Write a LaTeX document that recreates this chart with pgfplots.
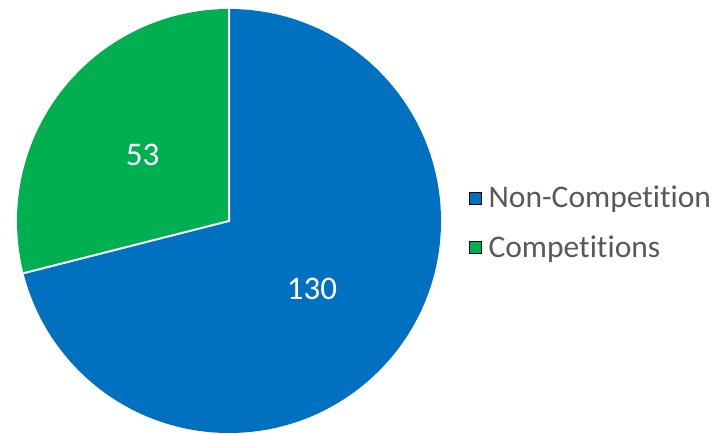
\documentclass[border=0pt]{standalone}
\usepackage{fontspec}
\setmainfont{Carlito}[Ligatures=NoCommon]
\usepackage{pgfplots}
\pgfplotsset{compat=1.18}
\usepackage{pgfplotstable}
\definecolor{ncblue}{HTML}{0070C0}
\definecolor{cgreen}{HTML}{00B050}
\definecolor{legtext}{HTML}{595959}

\pgfplotstableread{
label value
Non-Competition 130
Competitions 53
}\piedata

\begin{document}
\begin{tikzpicture}
\pgfplotstablegetelem{0}{value}\of\piedata \let\vA\pgfplotsretval
\pgfplotstablegetelem{1}{value}\of\piedata \let\vB\pgfplotsretval
\pgfmathsetmacro\split{90-\vA/(\vA+\vB)*360}
\def\cx{229}\def\cy{213}\def\r{212}
\begin{axis}[
  x=1pt, y=1pt,
  xmin=0, xmax=713, ymin=0, ymax=434,
  hide axis, clip=false,
  legend image code/.code={\fill[#1] (0pt,-6pt) rectangle (12pt,6pt);},
  legend cell align=left,
  legend style={at={(axis cs:469,211.5)}, anchor=west, draw=none, fill=none,
    inner sep=0pt, row sep=22pt, column sep=5pt,
    font=\fontsize{31.5}{36}\selectfont, text=legtext},
]
\fill[ncblue] (axis cs:\cx,\cy) -- (axis cs:\cx,\cy+\r)
  arc[start angle=90, end angle=\split, radius=\r] -- cycle;
\fill[cgreen] (axis cs:\cx,\cy) -- (axis cs:{\cx+\r*cos(\split)},{\cy+\r*sin(\split)})
  arc[start angle=\split, end angle=-270, radius=\r] -- cycle;
\draw[white, line width=2pt] (axis cs:\cx,\cy+\r) -- (axis cs:\cx,\cy)
  -- (axis cs:{\cx+\r*cos(\split)},{\cy+\r*sin(\split)});
\node[white, font=\fontsize{33}{38}\selectfont] at (axis cs:142.5,279) {\vB};
\node[white, font=\fontsize{33}{38}\selectfont] at (axis cs:312,145.5) {\vA};
\addlegendimage{fill=ncblue}
\addlegendentry{Non-Competition}
\addlegendimage{fill=cgreen}
\addlegendentry{Competitions}
\end{axis}
\pgfresetboundingbox
\path (current axis.south west) rectangle (current axis.north east);
\end{tikzpicture}
\end{document}
